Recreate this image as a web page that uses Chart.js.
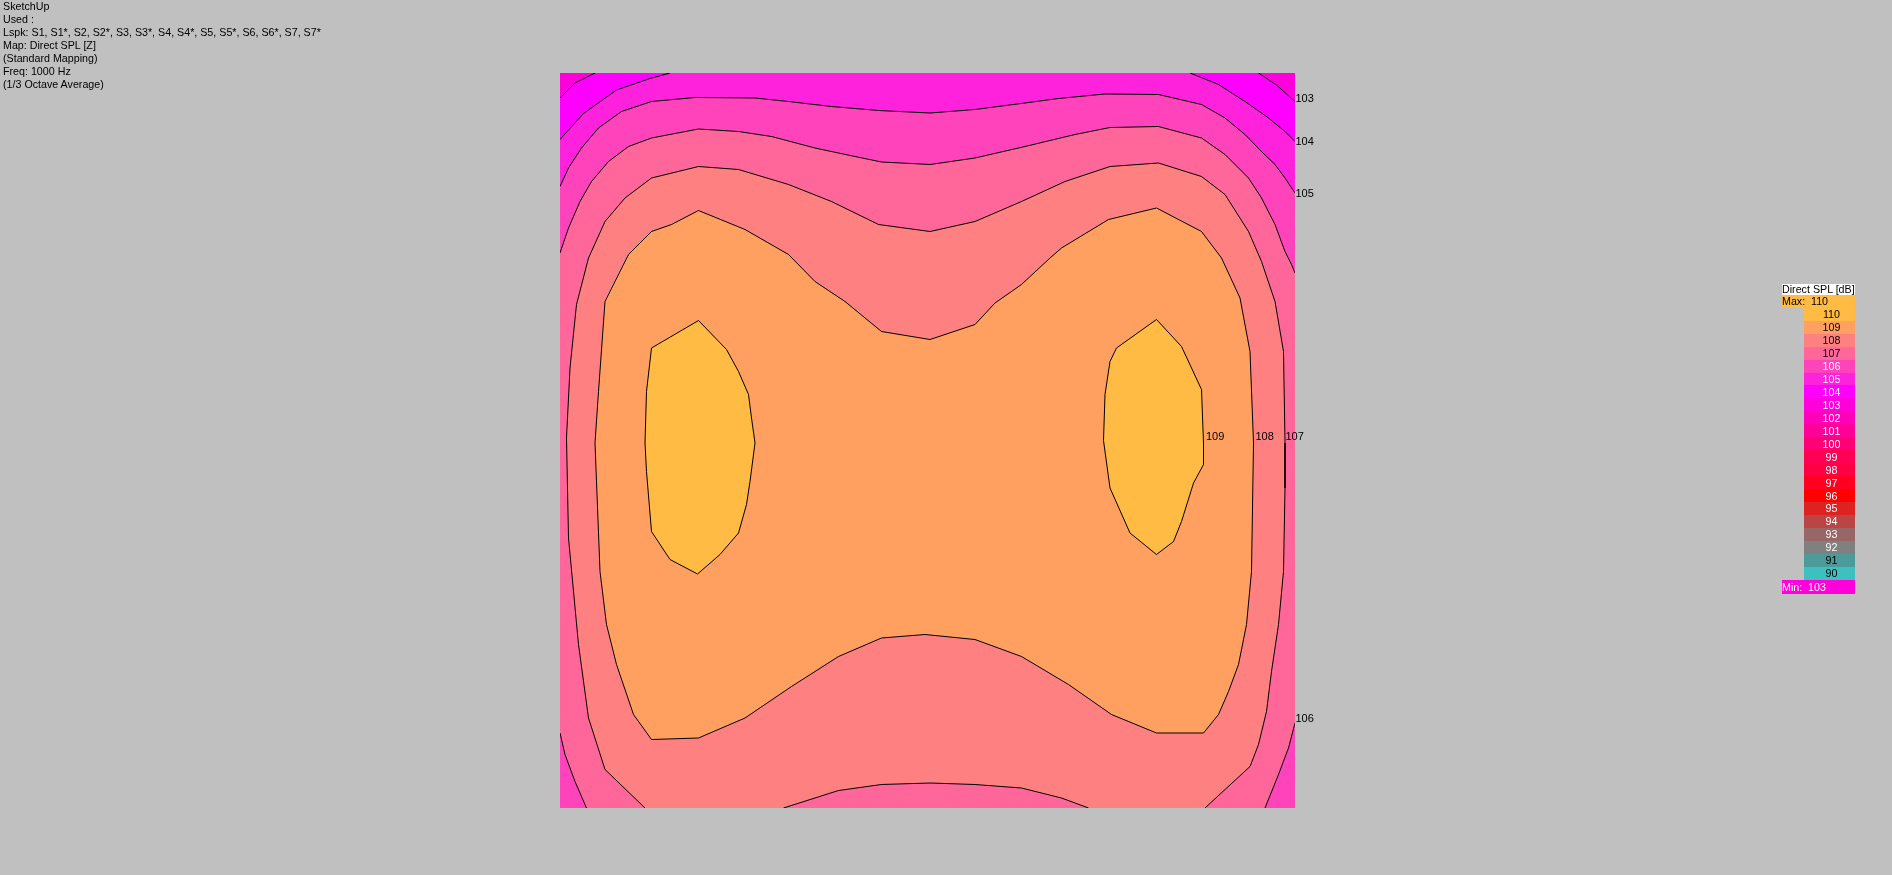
<!DOCTYPE html>
<html><head><meta charset="utf-8">
<script src="https://cdn.jsdelivr.net/npm/chart.js@4/dist/chart.umd.min.js"></script>
<style>
html,body{margin:0;padding:0;background:#c0c0c0;width:1892px;height:875px;overflow:hidden;font-family:"Liberation Sans",Arial,sans-serif;}
canvas{position:absolute;left:0;top:0;}
#info{position:absolute;left:3px;top:0;font-size:10.7px;line-height:13px;color:#000;white-space:pre;}
.lg{position:absolute;font-size:10.7px;white-space:nowrap;box-sizing:border-box;}
</style></head><body>
<canvas id="c" width="1892" height="875"></canvas>
<div id="info"></div>
<div id="legend"></div>
<script>
// ---------- header text ----------
const infoLines = ["SketchUp","Used :","Lspk: S1, S1*, S2, S2*, S3, S3*, S4, S4*, S5, S5*, S6, S6*, S7, S7*","Map: Direct SPL [Z]","(Standard Mapping)","Freq: 1000 Hz","(1/3 Octave Average)"];

// ---------- colour scale (legend) ----------
const legendTitle = "Direct SPL [dB]";
const legendLevels = [110,109,108,107,106,105,104,103,102,101,100,99,98,97,96,95,94,93,92,91,90];
const legendColors = ["#FFBB44","#FFA060","#FF8080","#FF6699","#FF44BB","#FF22DD","#FF00FF","#FF00DD","#FF00BB","#FF0099","#FF0077","#FF0055","#FF0044","#FF0022","#FF0000","#DD2222","#BB4444","#996666","#808080","#4C9A9A","#3CC0C0"];
const legendTextDark = [110,109,108,107,91,90];
const maxValue = 110, minValue = 103;

// ---------- map extent (x, y positions, y downward) ----------
const extentX = [0,147], extentY = [0,147];

// ---------- contour lines (x, y) ----------
const c103a = [[0,5],[3,2],[7,0]];
const c103b = [[139.7,0],[143.3,2.4],[147,5.7]];
const c104a = [[0,13.3],[4.7,8.1],[11.3,3.4],[18,1.1],[22,0]];
const c104b = [[126,0],[131.7,2.3],[137,5.7],[141.7,9],[145,11.7],[147,13.7]];
const c105 = [[0,22.7],[1.7,19],[4.3,15],[7.7,11],[12.3,7.7],[18.3,5.7],[27,4.9],[39,5],[45.7,5.7],[54.3,6.7],[63.7,7.5],[74,8],[83,7.3],[93,6],[99.7,5.1],[109,4.2],[119.7,4.3],[128.3,6.3],[133,9],[137,12.3],[140.3,15.7],[143,18.3],[145,21],[147,24]];
const c106a = [[0,36],[1.7,31],[4,25.7],[6.3,21.7],[9.7,17.7],[13.7,14.7],[18.3,13],[27.7,11.2],[35.7,11.7],[42.3,12.7],[51,15],[59,16.7],[64.3,17.8],[74,18.3],[83,17],[93,14.7],[103,12.3],[110,10.9],[119.7,10.7],[128.3,13],[133,16.3],[137.7,21],[140.3,25],[143,30.3],[145,35.7],[146.3,38.3],[147,40]];
const c106b = [[0,132],[1,136.3],[3,141.7],[5.3,147]];
const c106c = [[141,147],[143.7,140.3],[145.7,135],[147,130]];
const c107a = [[17,147],[9,139.3],[5.7,129],[3.7,114.3],[1.7,93],[1.3,73],[2,59],[3.3,46.3],[5.7,37],[9,29.7],[13,25],[18.3,21],[27.7,18.7],[35.7,19.3],[45.7,22.3],[54.3,25.7],[63.7,30.3],[74,31.7],[83,29.7],[92.3,25.7],[101,21.7],[110,18.7],[119.7,18],[128.3,20.7],[133,24.3],[137.7,31.7],[140.3,37.7],[143,45.7],[144.7,55.7],[145,74],[145,83],[144.7,99.7],[143.7,110.3],[142.3,119.7],[141.3,127.7],[139.7,134.3],[138,138.7],[129,147]];
const c107b = [[44.7,147],[55.7,143.5],[64.3,142.3],[74,142],[83,142.3],[92.3,143],[100.3,145],[105.7,147]];
const c108 = [[7,74],[7.7,63.7],[9,45.7],[13.7,36.3],[18.3,31.7],[22.3,30.3],[27.7,27.5],[37,31.3],[45.7,36.3],[51,41.7],[57,45.7],[64.3,51.7],[74,53.3],[83,50.3],[87,46],[92.3,42.3],[98,37],[100.3,35],[109.7,29.3],[119.3,27],[128.3,31.7],[132.3,37],[136,45],[138,55.7],[138.7,74],[138.3,99.7],[137.3,110.3],[135.7,118.3],[133.7,123.7],[131.7,128.3],[128.7,132],[119.3,132],[110.3,128.3],[101.7,122.3],[92.3,116.7],[83,113.3],[73,112.3],[64.3,113],[55.7,116.7],[46.3,122.7],[37,129],[27.7,133],[18.3,133.3],[14.7,128.3],[11.3,118.3],[9.3,110.3],[8,99.7],[7,74]];
const c109a = [[17,74],[17.3,63.7],[18.3,55],[27.7,49.5],[33.3,55.3],[35.7,59.7],[37.7,64.3],[38.3,69],[39,74],[38,81.7],[37.3,86.3],[35.7,92],[32,96.3],[27.5,100.2],[22,97.3],[18.3,91.7],[17.3,79.7],[17,74]];
const c109b = [[119.3,49.3],[124.3,54.7],[128.3,63.3],[128.7,74],[128.7,78.3],[126.7,82],[124.3,89.7],[122.7,93.7],[119.3,96.3],[114,92],[110,83],[108.7,73.5],[109,64.3],[110,57.7],[111.3,55],[119.3,49.3]];

// ---------- band fill colours: <103, 103-104, ..., >109 ----------
const bandColors = ["#FF00DD","#FF00FF","#FF22DD","#FF44BB","#FF6699","#FF8080","#FFA060","#FFBB44"];

// ---------- contour labels ----------
const labelText = ["103","104","105","106","107","108","109"];
const labelX = [147,147,147,147,145,139,129.1];
const labelY = [5.1,13.7,24.1,129.1,72.6,72.6,72.6];

// ===== build =====
document.getElementById('info').textContent = infoLines.join('\n');

const lg = document.getElementById('legend');
function addDiv(l,t,w,h,bg,txt,col,align){
  const d=document.createElement('div');d.className='lg';
  d.style.left=l+'px';d.style.top=t+'px';d.style.width=w+'px';d.style.height=h+'px';
  d.style.lineHeight=h+'px';if(bg)d.style.background=bg;d.style.color=col||'#000';
  d.style.textAlign=align||'left';
  d.textContent=txt;lg.appendChild(d);return d;
}
addDiv(1782,284,73,11,'#fff',legendTitle,'#000');
addDiv(1782,295,73,13,legendColors[0],'','#000');
addDiv(1782,295,30,13,null,'Max:','#000');
addDiv(1811,295,30,13,null,String(maxValue),'#000');
const rowTop=307.7,rowH=12.966;
legendLevels.forEach((v,i)=>{
  const t=rowTop+i*rowH;
  addDiv(1804,t,51,rowH+0.5,legendColors[i],'', '#000');
  addDiv(1806,t+0.3,51,12.7,null,String(v),legendTextDark.includes(v)?'#000':'#fff','center');
});
const minIdx = legendLevels.indexOf(minValue);
addDiv(1782,580,73,14,legendColors[minIdx],'','#fff');
addDiv(1782,580,30,14,null,'Min:','#fff');
addDiv(1808,580,30,14,null,String(minValue),'#fff');

const P = a => a.map(p=>({x:p[0],y:p[1]}));
const rev = a => a.slice().reverse();
const xa=extentX, ya=extentY;
const TL=[xa[0],ya[0]],TR=[xa[1],ya[0]],BR=[xa[1],ya[1]],BL=[xa[0],ya[1]];
const fillPolys = [
  [TL,TR,BR,BL],
  [...c103a,...c103b,BR,BL],
  [...c104a,...c104b,BR,BL],
  [...c105,BR,BL],
  [...c106a,...rev(c106c),...rev(c106b)],
  [...c107a,...rev(c107b)],
  c108,
  c109a,
  c109b
];
const fillCols = [bandColors[0],bandColors[1],bandColors[2],bandColors[3],bandColors[4],bandColors[5],bandColors[6],bandColors[7],bandColors[7]];
const datasets=[];
fillPolys.forEach((poly,i)=>{
  datasets.push({data:P(poly),showLine:true,fill:'shape',backgroundColor:fillCols[i],borderColor:'rgba(0,0,0,0)',borderWidth:0.01,pointRadius:0,tension:0,order:200-i});
});
[c103a,c103b,c104a,c104b,c105,c106a,c106b,c106c,c107a,c107b,c108,c109a,c109b].forEach(l=>{
  datasets.push({data:P(l),showLine:true,fill:false,borderColor:'#000',borderWidth:1,pointRadius:0,tension:0,order:0});
});

const labelPlugin={id:'clabels',afterDatasetsDraw(chart){
  const ctx=chart.ctx,sx=chart.scales.x,sy=chart.scales.y;
  ctx.save();ctx.font='11px "Liberation Sans", Arial, sans-serif';ctx.fillStyle='#000';
  ctx.textAlign='left';ctx.textBaseline='middle';
  labelText.forEach((t,i)=>ctx.fillText(t,sx.getPixelForValue(labelX[i])+0.5,sy.getPixelForValue(labelY[i])+0.5));
  ctx.restore();
}};

new Chart(document.getElementById('c'),{
  type:'scatter',
  data:{datasets},
  options:{
    responsive:false,animation:false,devicePixelRatio:1,
    layout:{padding:{left:560,top:73,right:597,bottom:67}},
    scales:{
      x:{type:'linear',min:xa[0],max:xa[1],display:false},
      y:{type:'linear',min:ya[0],max:ya[1],reverse:true,display:false}
    },
    plugins:{legend:{display:false},tooltip:{enabled:false}},
    events:[]
  },
  plugins:[labelPlugin]
});
</script>
</body></html>
